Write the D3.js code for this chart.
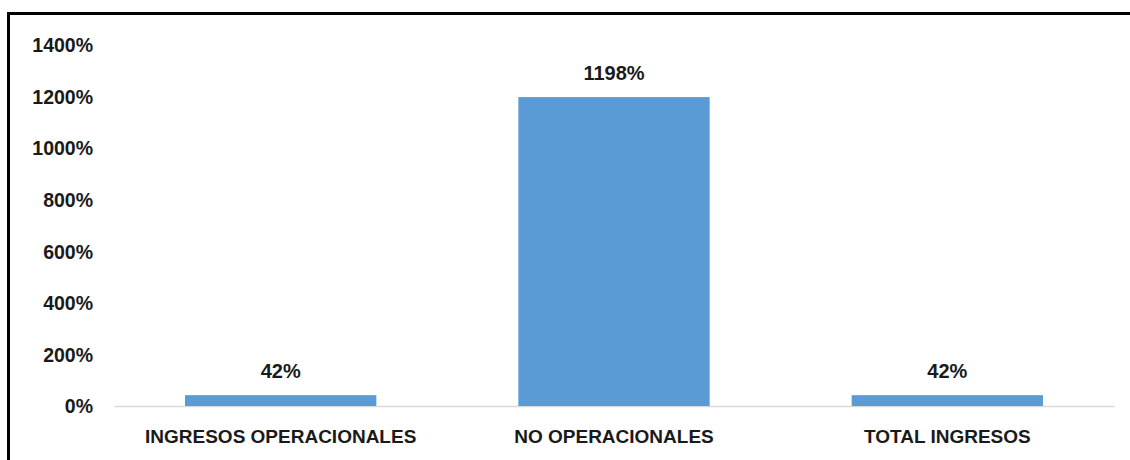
<!DOCTYPE html>
<html>
<head>
<meta charset="utf-8">
<script src="https://cdn.jsdelivr.net/npm/d3@7"></script>
<style>
  body { margin: 0; background: #fff; }
  text { font-family: "Liberation Sans", Arial, sans-serif; font-weight: bold; fill: #1a1a1a; }
</style>
</head>
<body>
<svg id="chart" width="1130" height="460"></svg>
<script>
// Chart data
var categories = ["INGRESOS OPERACIONALES", "NO OPERACIONALES", "TOTAL INGRESOS"];
var values = [42, 1198, 42];
var yTicks = [0, 200, 400, 600, 800, 1000, 1200, 1400];

var svgWidth = 1130;
var svgHeight = 460;

var svg = d3.select("#chart");

// frame lines (top and left only)
svg.append("rect")
  .attr("x", 8.5).attr("y", 13.5)
  .attr("width", svgWidth).attr("height", svgHeight)
  .attr("fill", "none")
  .attr("stroke", "#000")
  .attr("stroke-width", 3);

var data = categories.map(function(c, i) { return { name: c, value: values[i] }; });

var xScale = d3.scaleBand()
  .domain(categories)
  .range([114, 1114])
  .paddingInner(0.426)
  .paddingOuter(0.213);

var yScale = d3.scaleLinear()
  .domain([0, 1400])
  .range([406, 45]);

// y axis labels
var leftAxis = d3.axisLeft(yScale)
  .tickValues(yTicks)
  .tickFormat(d => d + "%")
  .tickSize(0)
  .tickPadding(0);

var yAxis = svg.append("g")
  .attr("transform", "translate(93,0)")
  .call(leftAxis);
yAxis.select(".domain").remove();
yAxis.selectAll("text")
  .style("font-size", "19.5px")
  .attr("dy", "0.35em");

// baseline
var bottomAxis = d3.axisBottom(xScale).tickSize(0).tickPadding(24);
var xAxis = svg.append("g")
  .attr("transform", "translate(0," + yScale(0) + ")")
  .call(bottomAxis);
xAxis.select(".domain")
  .attr("stroke", "#d9d9d9")
  .attr("stroke-width", 1.5);
xAxis.selectAll("text")
  .style("font-size", "19px");

// bars
svg.selectAll(".bar")
  .data(data)
  .enter()
  .append("rect")
  .attr("class", "bar")
  .attr("x", d => xScale(d.name))
  .attr("width", xScale.bandwidth())
  .attr("y", d => yScale(d.value))
  .attr("height", d => yScale(0) - yScale(d.value))
  .attr("fill", "#5b9bd5");

// value labels
svg.selectAll(".label")
  .data(data)
  .enter()
  .append("text")
  .attr("class", "label")
  .attr("x", d => xScale(d.name) + xScale.bandwidth() / 2)
  .attr("y", d => yScale(d.value) - 17.5)
  .attr("text-anchor", "middle")
  .style("font-size", "20px")
  .text(d => d.value + "%");
</script>
</body>
</html>
